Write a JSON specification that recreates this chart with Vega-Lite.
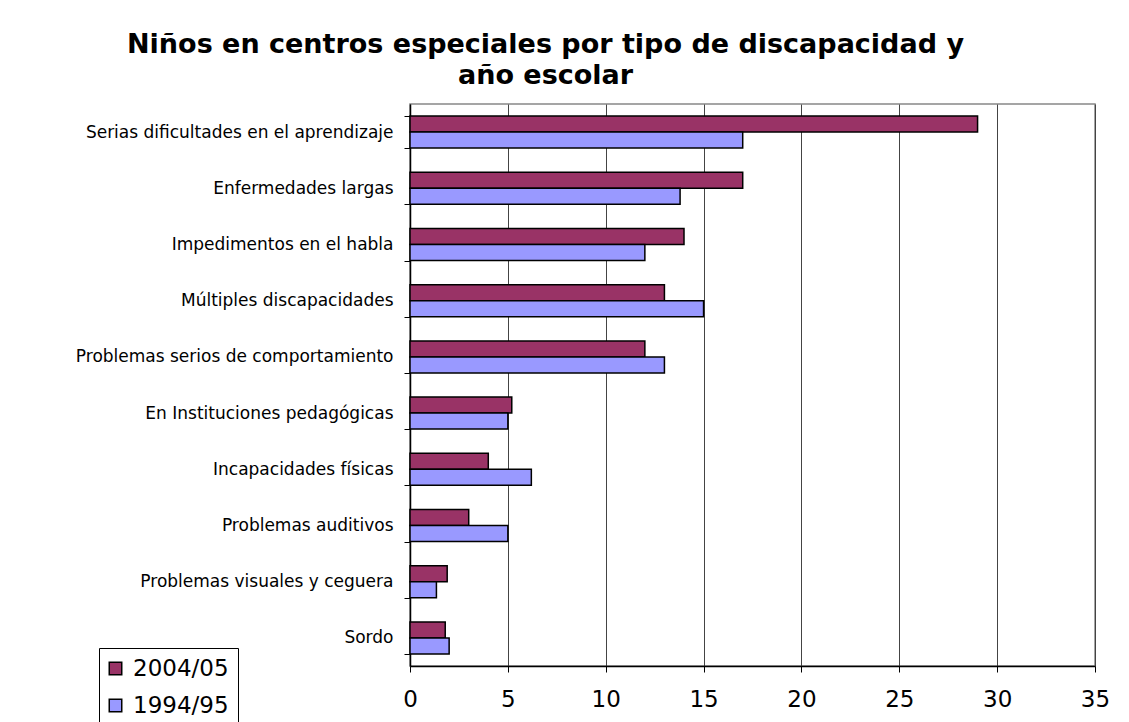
{
  "$schema": "https://vega.github.io/schema/vega-lite/v6.json",
  "autosize": {"type": "none"},
  "width": 685,
  "height": 562,
  "padding": {"left": 410, "top": 104, "right": 34, "bottom": 56},
  "background": "white",
  "title": {
    "text": ["Niños en centros especiales por tipo de discapacidad y", "año escolar"],
    "font": "DejaVu Sans",
    "fontSize": 27,
    "fontWeight": "bold",
    "color": "black",
    "anchor": "middle",
    "dx": -207,
    "offset": 5,
    "lineHeight": 31
  },
  "data": {
    "values": [
      {"tipo": "Serias dificultades en el aprendizaje", "anio": "2004/05", "valor": 29},
      {"tipo": "Serias dificultades en el aprendizaje", "anio": "1994/95", "valor": 17},
      {"tipo": "Enfermedades largas", "anio": "2004/05", "valor": 17},
      {"tipo": "Enfermedades largas", "anio": "1994/95", "valor": 13.8},
      {"tipo": "Impedimentos en el habla", "anio": "2004/05", "valor": 14},
      {"tipo": "Impedimentos en el habla", "anio": "1994/95", "valor": 12},
      {"tipo": "Múltiples discapacidades", "anio": "2004/05", "valor": 13},
      {"tipo": "Múltiples discapacidades", "anio": "1994/95", "valor": 15},
      {"tipo": "Problemas serios de comportamiento", "anio": "2004/05", "valor": 12},
      {"tipo": "Problemas serios de comportamiento", "anio": "1994/95", "valor": 13},
      {"tipo": "En Instituciones pedagógicas", "anio": "2004/05", "valor": 5.2},
      {"tipo": "En Instituciones pedagógicas", "anio": "1994/95", "valor": 5},
      {"tipo": "Incapacidades físicas", "anio": "2004/05", "valor": 4},
      {"tipo": "Incapacidades físicas", "anio": "1994/95", "valor": 6.2},
      {"tipo": "Problemas auditivos", "anio": "2004/05", "valor": 3},
      {"tipo": "Problemas auditivos", "anio": "1994/95", "valor": 5},
      {"tipo": "Problemas visuales y ceguera", "anio": "2004/05", "valor": 1.9},
      {"tipo": "Problemas visuales y ceguera", "anio": "1994/95", "valor": 1.35},
      {"tipo": "Sordo", "anio": "2004/05", "valor": 1.8},
      {"tipo": "Sordo", "anio": "1994/95", "valor": 2}
    ]
  },
  "mark": {"type": "bar", "stroke": "black", "strokeWidth": 1.5},
  "encoding": {
    "y": {
      "field": "tipo",
      "type": "nominal",
      "sort": null,
      "title": null,
      "scale": {"paddingInner": 0.43, "paddingOuter": 0.215},
      "axis": {
        "tickBand": "extent",
        "tickSize": 6,
        "tickColor": "black",
        "domainColor": "black",
        "domainWidth": 1.5,
        "labelFont": "DejaVu Sans",
        "labelFontSize": 17,
        "labelColor": "black",
        "labelPadding": 11,
        "labelLimit": 400
      }
    },
    "yOffset": {
      "field": "anio",
      "type": "nominal",
      "sort": ["2004/05", "1994/95"],
      "scale": {"domain": ["2004/05", "1994/95"], "paddingInner": 0, "paddingOuter": 0}
    },
    "x": {
      "field": "valor",
      "type": "quantitative",
      "title": null,
      "scale": {"domain": [0, 35], "nice": false},
      "axis": {
        "values": [0, 5, 10, 15, 20, 25, 30, 35],
        "grid": true,
        "gridColor": "#444444",
        "gridWidth": 1,
        "gridOpacity": 1,
        "tickSize": 6,
        "tickColor": "black",
        "domainColor": "black",
        "domainWidth": 1.5,
        "labelFont": "DejaVu Sans",
        "labelFontSize": 23,
        "labelColor": "black",
        "labelPadding": 16,
        "labelFlush": false
      }
    },
    "fill": {
      "field": "anio",
      "type": "nominal",
      "sort": ["2004/05", "1994/95"],
      "scale": {"domain": ["2004/05", "1994/95"], "range": ["#993366", "#9999FF"]},
      "legend": {
        "title": null,
        "orient": "none",
        "legendX": -311,
        "legendY": 544,
        "symbolType": "square",
        "symbolSize": 156,
        "symbolStrokeColor": "black",
        "symbolStrokeWidth": 1.5,
        "symbolOffset": -4,
        "labelFont": "DejaVu Sans",
        "labelFontSize": 23,
        "labelColor": "black",
        "labelOffset": 6,
        "rowPadding": 13,
        "padding": 9,
        "strokeColor": "black",
        "fillColor": "white"
      }
    }
  },
  "config": {
    "view": {"stroke": "#888888", "strokeWidth": 1.5}
  }
}
